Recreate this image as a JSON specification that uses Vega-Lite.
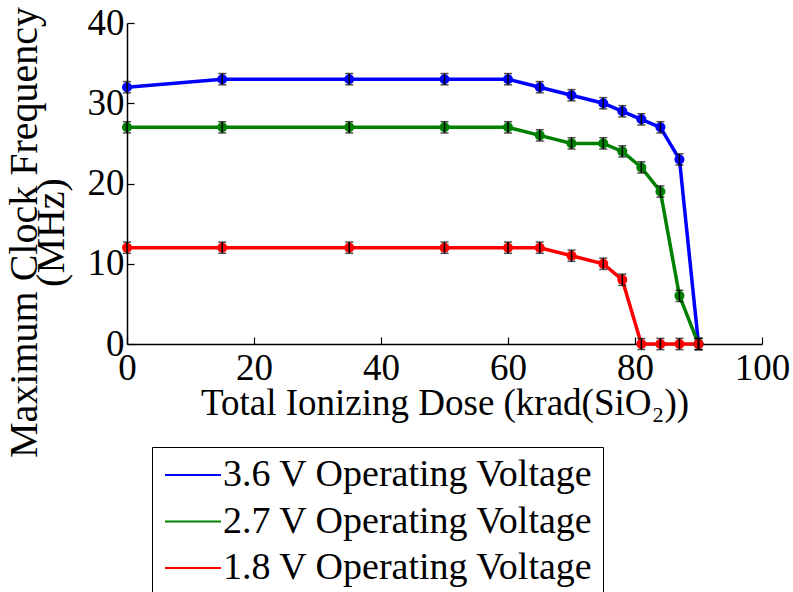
{
  "$schema": "https://vega.github.io/schema/vega-lite/v6.json",
  "autosize": {"type": "none"},
  "width": 635,
  "height": 321,
  "padding": {"left": 127, "top": 23, "right": 31, "bottom": 248},
  "background": "white",
  "config": {
    "font": "Liberation Serif",
    "view": {"stroke": null},
    "axis": {
      "grid": false,
      "domainColor": "black",
      "domainWidth": 1.5,
      "tickColor": "black",
      "tickWidth": 1.2,
      "tickSize": -7,
      "labelColor": "black",
      "labelFont": "Liberation Serif",
      "labelFontSize": 37,
      "labelFlush": false,
      "labelOverlap": false,
      "titleFont": "Liberation Serif",
      "titleFontSize": 37,
      "titleFontWeight": "normal",
      "titleColor": "black"
    }
  },
  "data": {
    "values": [
      {"dose": 0, "freq": 32, "err": 0.7, "voltage": "3.6 V Operating Voltage"},
      {"dose": 15, "freq": 33, "err": 0.7, "voltage": "3.6 V Operating Voltage"},
      {"dose": 35, "freq": 33, "err": 0.7, "voltage": "3.6 V Operating Voltage"},
      {"dose": 50, "freq": 33, "err": 0.7, "voltage": "3.6 V Operating Voltage"},
      {"dose": 60, "freq": 33, "err": 0.7, "voltage": "3.6 V Operating Voltage"},
      {"dose": 65, "freq": 32, "err": 0.7, "voltage": "3.6 V Operating Voltage"},
      {"dose": 70, "freq": 31, "err": 0.7, "voltage": "3.6 V Operating Voltage"},
      {"dose": 75, "freq": 30, "err": 0.7, "voltage": "3.6 V Operating Voltage"},
      {"dose": 78, "freq": 29, "err": 0.7, "voltage": "3.6 V Operating Voltage"},
      {"dose": 81, "freq": 28, "err": 0.7, "voltage": "3.6 V Operating Voltage"},
      {"dose": 84, "freq": 27, "err": 0.7, "voltage": "3.6 V Operating Voltage"},
      {"dose": 87, "freq": 23, "err": 0.7, "voltage": "3.6 V Operating Voltage"},
      {"dose": 90, "freq": 0, "err": 0.7, "voltage": "3.6 V Operating Voltage"},
      {"dose": 0, "freq": 27, "err": 0.7, "voltage": "2.7 V Operating Voltage"},
      {"dose": 15, "freq": 27, "err": 0.7, "voltage": "2.7 V Operating Voltage"},
      {"dose": 35, "freq": 27, "err": 0.7, "voltage": "2.7 V Operating Voltage"},
      {"dose": 50, "freq": 27, "err": 0.7, "voltage": "2.7 V Operating Voltage"},
      {"dose": 60, "freq": 27, "err": 0.7, "voltage": "2.7 V Operating Voltage"},
      {"dose": 65, "freq": 26, "err": 0.7, "voltage": "2.7 V Operating Voltage"},
      {"dose": 70, "freq": 25, "err": 0.7, "voltage": "2.7 V Operating Voltage"},
      {"dose": 75, "freq": 25, "err": 0.7, "voltage": "2.7 V Operating Voltage"},
      {"dose": 78, "freq": 24, "err": 0.7, "voltage": "2.7 V Operating Voltage"},
      {"dose": 81, "freq": 22, "err": 0.7, "voltage": "2.7 V Operating Voltage"},
      {"dose": 84, "freq": 19, "err": 0.7, "voltage": "2.7 V Operating Voltage"},
      {"dose": 87, "freq": 6, "err": 0.7, "voltage": "2.7 V Operating Voltage"},
      {"dose": 90, "freq": 0, "err": 0.7, "voltage": "2.7 V Operating Voltage"},
      {"dose": 0, "freq": 12, "err": 0.7, "voltage": "1.8 V Operating Voltage"},
      {"dose": 15, "freq": 12, "err": 0.7, "voltage": "1.8 V Operating Voltage"},
      {"dose": 35, "freq": 12, "err": 0.7, "voltage": "1.8 V Operating Voltage"},
      {"dose": 50, "freq": 12, "err": 0.7, "voltage": "1.8 V Operating Voltage"},
      {"dose": 60, "freq": 12, "err": 0.7, "voltage": "1.8 V Operating Voltage"},
      {"dose": 65, "freq": 12, "err": 0.7, "voltage": "1.8 V Operating Voltage"},
      {"dose": 70, "freq": 11, "err": 0.7, "voltage": "1.8 V Operating Voltage"},
      {"dose": 75, "freq": 10, "err": 0.7, "voltage": "1.8 V Operating Voltage"},
      {"dose": 78, "freq": 8, "err": 0.7, "voltage": "1.8 V Operating Voltage"},
      {"dose": 81, "freq": 0, "err": 0.7, "voltage": "1.8 V Operating Voltage"},
      {"dose": 84, "freq": 0, "err": 0.7, "voltage": "1.8 V Operating Voltage"},
      {"dose": 87, "freq": 0, "err": 0.7, "voltage": "1.8 V Operating Voltage"},
      {"dose": 90, "freq": 0, "err": 0.7, "voltage": "1.8 V Operating Voltage"}
    ]
  },
  "encoding": {
    "x": {
      "field": "dose",
      "type": "quantitative",
      "scale": {"domain": [0, 100], "nice": false},
      "axis": {
        "values": [0, 20, 40, 60, 80, 100],
        "title": "Total Ionizing Dose (krad(SiO₂))",
        "labelPadding": 13,
        "titlePadding": -1
      }
    },
    "y": {
      "field": "freq",
      "type": "quantitative",
      "scale": {"domain": [0, 40], "nice": false},
      "axis": {
        "values": [0, 10, 20, 30, 40],
        "title": ["Maximum Clock Frequency", "(MHz)"],
        "titleFontSize": 40,
        "labelPadding": 10,
        "titleX": -83,
        "titleY": 209,
        "titleLineHeight": 27
      }
    },
    "color": {
      "field": "voltage",
      "type": "nominal",
      "sort": ["3.6 V Operating Voltage", "2.7 V Operating Voltage", "1.8 V Operating Voltage"],
      "scale": {
        "domain": ["3.6 V Operating Voltage", "2.7 V Operating Voltage", "1.8 V Operating Voltage"],
        "range": ["#0000ff", "#008000", "#ff0000"]
      },
      "legend": {
        "title": null,
        "orient": "none",
        "legendX": 25,
        "legendY": 424,
        "symbolType": "M-2,0H2",
        "symbolSize": 784,
        "symbolStrokeWidth": 2,
        "symbolOffset": 13,
        "labelFont": "Liberation Serif",
        "labelFontSize": 38,
        "labelColor": "black",
        "labelLimit": 600,
        "labelOffset": 11,
        "rowPadding": 8.5,
        "strokeColor": "black",
        "padding": 9,
        "fillColor": "white"
      }
    }
  },
  "layer": [
    {
      "mark": {"type": "line", "strokeWidth": 3.5}
    },
    {
      "mark": {"type": "point", "filled": true, "shape": "circle", "size": 100, "opacity": 1}
    },
    {
      "mark": {"type": "errorbar", "ticks": {"size": 8, "color": "black"}, "color": "black", "thickness": 1.5},
      "encoding": {
        "y": {"field": "freq", "type": "quantitative"},
        "yError": {"field": "err"},
        "color": {"value": "black"}
      }
    }
  ]
}
